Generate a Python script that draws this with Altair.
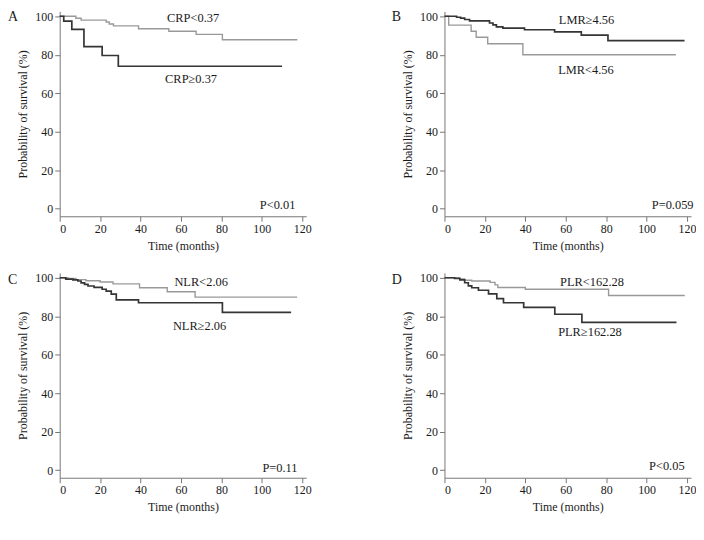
import altair as alt
import pandas as pd

# ---- data (time in months, survival %) ----
# Panel A
a_dark_t = [0, 2, 6, 12, 21, 29, 110]
a_dark_s = [100, 97.5, 93.2, 84.2, 79.6, 74.0, 74.0]
a_light_t = [0, 8, 10.6, 23, 24.5, 26.6, 39, 54, 67.5, 80.5, 117.6]
a_light_s = [100, 99, 98, 97, 96, 95, 93.5, 92.2, 90.6, 87.8, 87.8]
# Panel B
b_dark_t = [0, 6, 8, 10, 12.4, 22.3, 24, 25.7, 28.9, 39.6, 54.5, 67.7, 80.9, 118.8]
b_dark_s = [100, 99.5, 99, 98.3, 97.6, 96.5, 95.5, 94.5, 93.8, 93, 91.9, 90.2, 87.3, 87.3]
b_light_t = [0, 2.1, 13.2, 15.7, 21.4, 38.8, 114.5]
b_light_s = [100, 95.4, 92.2, 89.1, 85.7, 80.0, 80.0]
# Panel C
c_light_t = [0, 4, 8, 13, 20, 26.4, 39.5, 53.2, 67, 117.5]
c_light_s = [100, 99.6, 99, 98.4, 97.8, 96.8, 94.8, 92.7, 89.9, 89.9]
c_dark_t = [0, 3, 6.5, 9, 10.6, 12.3, 14, 17, 21, 23, 25.5, 28, 39, 80.5, 114.5]
c_dark_s = [100, 99.3, 98.9, 98.3, 97.3, 96.5, 95.7, 95, 94, 93, 91.5, 88.5, 87, 82, 82]
# Panel D
d_light_t = [0, 7.6, 10, 13.5, 22.6, 25, 26.4, 40, 81.2, 118.9]
d_light_s = [100, 99.4, 98.7, 98.3, 97.6, 96.3, 94.9, 94, 90.8, 90.8]
d_dark_t = [0, 5, 7.6, 10, 11.8, 13.5, 16.8, 21.8, 25.9, 29.2, 39.2, 54.6, 68, 114.8]
d_dark_s = [100, 99.6, 98.9, 97.4, 95.8, 94.8, 93.5, 91.6, 89.1, 87, 84.6, 81, 76.8, 76.8]

# curve labels: (text, x, y)
a_labels = [("CRP<0.37", 66, 99.2), ("CRP\u22650.37", 65, 67.2), ("P<0.01", 107.8, 2.1)]
b_labels = [("LMR\u22654.56", 70.3, 98.0), ("LMR<4.56", 70, 71.8), ("P=0.059", 112.9, 2.0)]
c_labels = [("NLR<2.06", 70, 97.7), ("NLR\u22652.06", 69.2, 74.8), ("P=0.11", 109, 1.3)]
d_labels = [("PLR<162.28", 73, 98.0), ("PLR\u2265162.28", 72, 71.9), ("P<0.05", 110, 1.9)]

FONT = "Liberation Serif"
DARK = "#353535"
LIGHT = "#999999"
W, H = 248, 206

xs = alt.Scale(domain=[0, 122], nice=False, zero=False)
ys = alt.Scale(domain=[-4, 102.5], nice=False, zero=False)
xaxis = alt.Axis(values=[0, 20, 40, 60, 80, 100, 120], title="Time (months)")
yaxis = alt.Axis(values=[0, 20, 40, 60, 80, 100], title="Probability of survival (%)")


def panel(letter, dark_t, dark_s, light_t, light_s, labels, letter_x, letter_y):
    ddf = pd.DataFrame({"t": dark_t, "s": dark_s})
    ldf = pd.DataFrame({"t": light_t, "s": light_s})
    light = alt.Chart(ldf).mark_line(interpolate="step-after", color=LIGHT, strokeWidth=1.4).encode(
        x=alt.X("t:Q", scale=xs, axis=xaxis),
        y=alt.Y("s:Q", scale=ys, axis=yaxis),
    )
    dark = alt.Chart(ddf).mark_line(interpolate="step-after", color=DARK, strokeWidth=1.7).encode(
        x=alt.X("t:Q", scale=xs, axis=xaxis),
        y=alt.Y("s:Q", scale=ys, axis=yaxis),
    )
    tdf = pd.DataFrame({"txt": [l[0] for l in labels], "t": [l[1] for l in labels], "s": [l[2] for l in labels]})
    texts = alt.Chart(tdf).mark_text(font=FONT, fontSize=12.5, color="#1a1a1a", baseline="middle").encode(
        x=alt.X("t:Q", scale=xs), y=alt.Y("s:Q", scale=ys), text="txt:N"
    )
    let = alt.Chart(pd.DataFrame({"l": [letter]})).mark_text(
        font=FONT, fontSize=14, color="#1a1a1a", align="left", baseline="middle"
    ).encode(x=alt.value(letter_x), y=alt.value(letter_y), text="l:N")
    return alt.layer(light, dark, texts, let).properties(width=W, height=H)


A = panel("A", a_dark_t, a_dark_s, a_light_t, a_light_s, a_labels, -52, 6)
B = panel("B", b_dark_t, b_dark_s, b_light_t, b_light_s, b_labels, -53, 6)
C = panel("C", c_dark_t, c_dark_s, c_light_t, c_light_s, c_labels, -52, 7)
D = panel("D", d_dark_t, d_dark_s, d_light_t, d_light_s, d_labels, -53, 7)

chart = alt.vconcat(
    alt.hconcat(A, B, spacing=81),
    alt.hconcat(C, D, spacing=81),
    spacing=20,
).properties(padding=0).configure_view(stroke=None).configure_axis(
    grid=False,
    labelFont=FONT,
    labelFontSize=12,
    labelColor="#1a1a1a",
    titleFont=FONT,
    titleFontSize=12,
    titleFontWeight="normal",
    titleColor="#1a1a1a",
    domainColor="#777",
    tickColor="#777",
    tickSize=5,
    labelPadding=2,
).configure_axisX(titlePadding=6).configure_axisY(titlePadding=5)

chart.save("out.html", embed_options={"renderer": "svg", "actions": False})
